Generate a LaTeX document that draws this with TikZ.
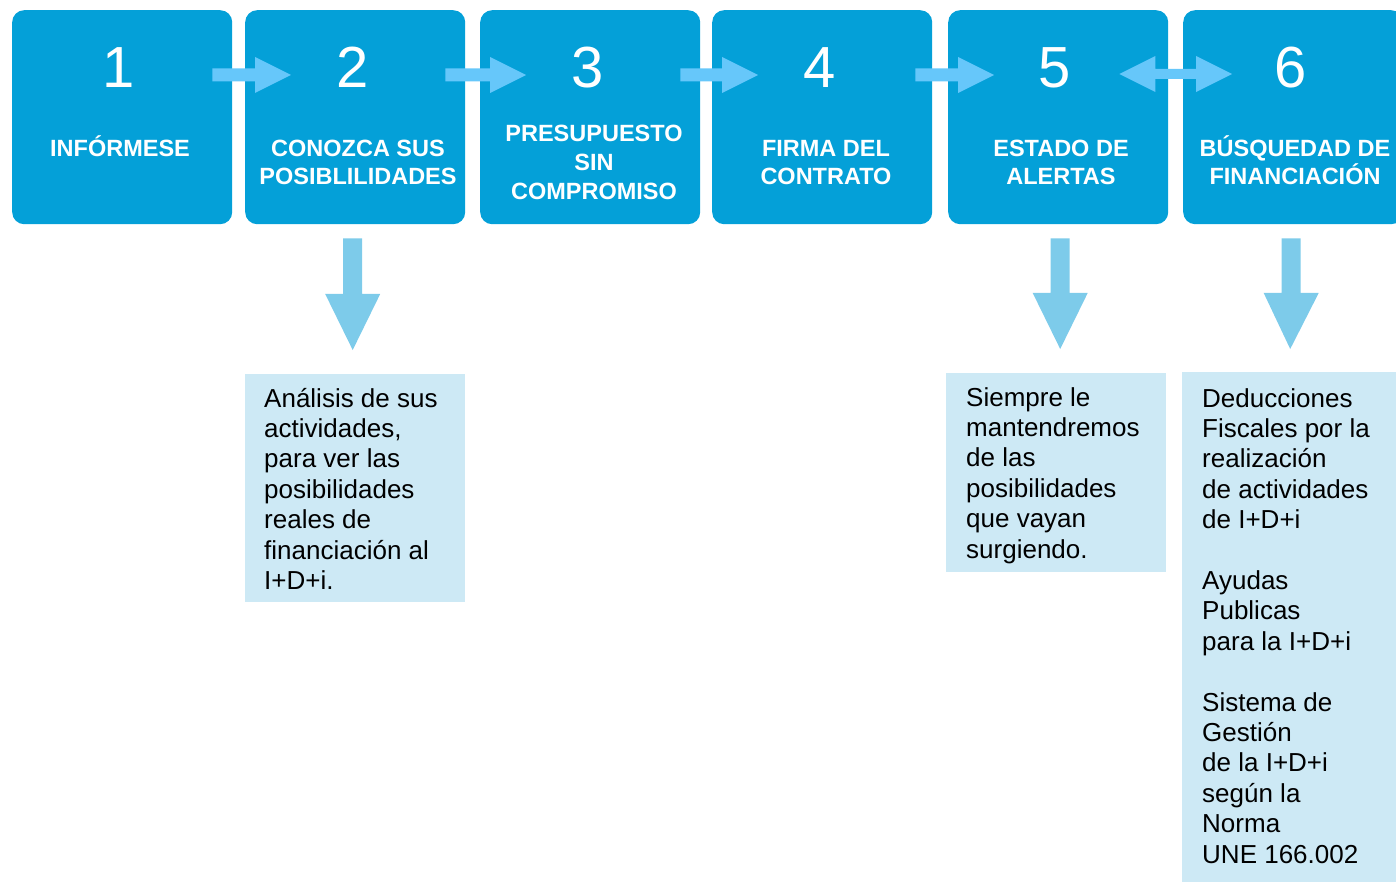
\documentclass[tikz,border=0pt]{standalone}
\usepackage{fontspec}
\setmainfont{Liberation Sans}
\usetikzlibrary{calc}
\definecolor{boxblue}{RGB}{4,160,216}
\definecolor{harrowc}{RGB}{102,199,250}
\definecolor{varrowc}{RGB}{125,203,234}
\definecolor{tboxc}{RGB}{205,233,245}
\tikzset{
 stepbox/.style={fill=boxblue, rounded corners=12pt, minimum width=220, minimum height=214, inner sep=0, anchor=north west},
 numtext/.style={text=white, font=\fontsize{58}{58}\selectfont, anchor=base, inner sep=0},
 titletext/.style={text=white, font=\bfseries\fontsize{23.5}{28.7}\selectfont, align=center, anchor=base, inner sep=0},
 infobox/.style={fill=tboxc, inner sep=0, anchor=north west},
 infotext/.style={text=black, font=\fontsize{26}{30.4}\selectfont, align=left, anchor=base west, inner sep=0},
 harrow/.style={fill=harrowc},
 varrow/.style={fill=varrowc},
}
\newcommand\harr[2]{\fill[harrow] let \p1=(#1), \p2=(#2) in (\x1,\y1+6.5) -- (\x2-36,\y1+6.5) -- (\x2-36,\y1+18) -- (\x2,\y1) -- (\x2-36,\y1-18) -- (\x2-36,\y1-6.5) -- (\x1,\y1-6.5) -- cycle;}
\newcommand\darr[2]{\fill[harrow] let \p1=(#1), \p2=(#2) in (\x1,\y1) -- (\x1+36,\y1+18) -- (\x1+36,\y1+5) -- (\x2-36,\y1+5) -- (\x2-36,\y1+18) -- (\x2,\y1) -- (\x2-36,\y1-18) -- (\x2-36,\y1-5) -- (\x1+36,\y1-5) -- (\x1+36,\y1-18) -- cycle;}
\newcommand\varr[2]{\fill[varrow] let \p1=(#1), \p2=(#2) in (\x1-9.5,\y1) -- (\x1+9.5,\y1) -- (\x1+9.5,\y2+56) -- (\x1+27.5,\y2+56) -- (\x2,\y2) -- (\x1-27.5,\y2+56) -- (\x1-9.5,\y2+56) -- cycle;}
\begin{document}
\begin{tikzpicture}[x=1pt,y=-1pt]
\clip (0,0) rectangle (1396,882);
% step boxes
\node[stepbox] (b1) at (12,10) {};
\node[stepbox] (b2) at (245,10) {};
\node[stepbox] (b3) at (480,10) {};
\node[stepbox] (b4) at (712,10) {};
\node[stepbox] (b5) at (948,10) {};
\node[stepbox] (b6) at (1183,10) {};
% info boxes
\node[infobox, minimum width=220, minimum height=228] (t1) at (245,374) {};
\node[infobox, minimum width=220, minimum height=199] (t2) at (946,373) {};
\node[infobox, minimum width=220, minimum height=520] (t3) at (1182,372) {};
% horizontal arrows
\coordinate (h12s) at ($(b1.north east)+(-20,65)$);
\coordinate (h12t) at ($(b2.north west)+(46,65)$);
\coordinate (h23s) at ($(b2.north east)+(-20,65)$);
\coordinate (h23t) at ($(b3.north west)+(46,65)$);
\coordinate (h34s) at ($(b3.north east)+(-20,65)$);
\coordinate (h34t) at ($(b4.north west)+(46,65)$);
\coordinate (h45s) at ($(b4.north east)+(-17,65)$);
\coordinate (h45t) at ($(b5.north west)+(46,65)$);
\coordinate (d56l) at ($(b5.north east)+(-49,64)$);
\coordinate (d56r) at ($(b6.north west)+(49,64)$);
\harr{h12s}{h12t}
\harr{h23s}{h23t}
\harr{h34s}{h34t}
\harr{h45s}{h45t}
\darr{d56l}{d56r}
% down arrows
\coordinate (v2s) at ($(b2.south)+(-2.5,14)$);
\coordinate (v2t) at ($(t1.north)+(-2.5,-24)$);
\coordinate (v5s) at ($(b5.south)+(2,14)$);
\coordinate (v5t) at ($(t2.north)+(4,-24)$);
\coordinate (v6s) at ($(b6.south)+(-2,14)$);
\coordinate (v6t) at ($(t3.north)+(-2,-23)$);
\varr{v2s}{v2t}
\varr{v5s}{v5t}
\varr{v6s}{v6t}
% numbers
\node[numtext] (n1) at (118.5,88) {1};
\node[numtext] (n2) at (352.5,88) {2};
\node[numtext] (n3) at (588,88) {3};
\node[numtext] (n4) at (820,88) {4};
\node[numtext] (n5) at (1055,88) {5};
\node[numtext] (n6) at (1291,88) {6};
% titles (base = last line)
\node[titletext] (l1) at (120,157) {INFÓRMESE};
\node[titletext] (l2) at (358,185) {CONOZCA SUS\\POSIBLILIDADES};
\node[titletext] (l3) at (594,199.3) {PRESUPUESTO\\SIN\\COMPROMISO};
\node[titletext] (l4) at (826,185) {FIRMA DEL\\CONTRATO};
\node[titletext] (l5) at (1061,185) {ESTADO DE\\ALERTAS};
\node[titletext] (l6) at (1295,185) {BÚSQUEDAD DE\\FINANCIACIÓN};
% info texts (base = last line)
\node[infotext] (x1) at (264,589.4) {Análisis de sus\\actividades,\\para ver las\\posibilidades\\reales de\\financiación al\\I+D+i.};
\node[infotext] (x2) at (966,558) {Siempre le\\mantendremos\\de las\\posibilidades\\que vayan\\surgiendo.};
\node[infotext] (x3) at (1202,863) {Deducciones\\Fiscales por la\\realización\\de actividades\\de I+D+i\\[30.4pt]Ayudas\\Publicas\\para la I+D+i\\[30.4pt]Sistema de\\Gestión\\de la I+D+i\\según la\\Norma\\UNE 166.002};
\end{tikzpicture}
\end{document}
